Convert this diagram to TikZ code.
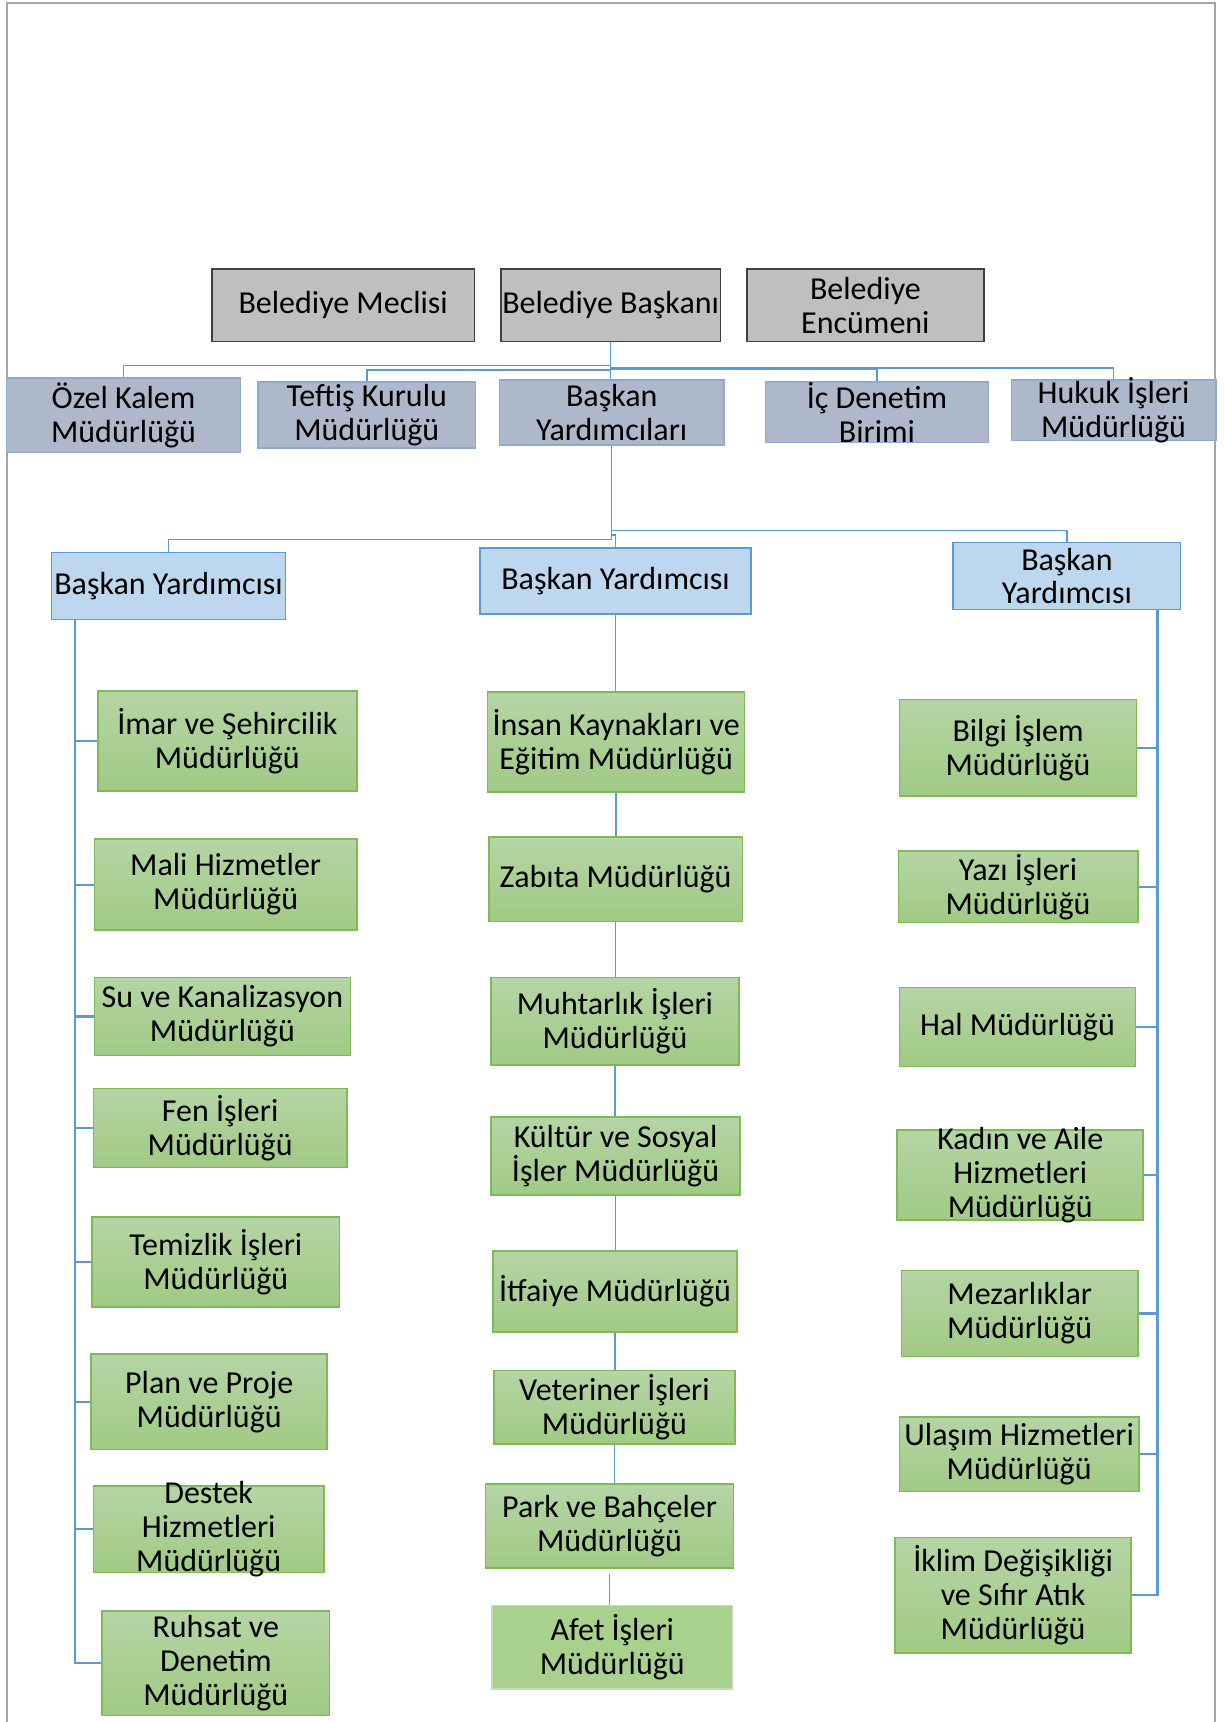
\documentclass[tikz,border=0pt]{standalone}
\usepackage{fontspec}
\setmainfont{Carlito}
\usetikzlibrary{calc}
\definecolor{grayfill}{HTML}{BFBFBF}
\definecolor{grayline}{HTML}{404040}
\definecolor{slatefill}{HTML}{ADB9CA}
\definecolor{slateline}{HTML}{8FAAD0}
\definecolor{byfill}{HTML}{BDD7EE}
\definecolor{byline}{HTML}{5B9BD5}
\definecolor{gtop}{HTML}{B5D5A5}
\definecolor{gbot}{HTML}{A0CA84}
\definecolor{gline}{HTML}{7FBA57}
\definecolor{afetfill}{HTML}{A9D18E}
\definecolor{conncol}{HTML}{5B9BD5}
\definecolor{framecol}{HTML}{A6A6A6}

\newcommand\orgbox[7]{%
 \pgfmathsetmacro\obw{(#4-#2)*0.54933}%
 \pgfmathsetmacro\obh{(#5-#3)*0.54933}%
 \node[#6, minimum width=\obw pt, minimum height=\obh pt] (#1) at ({(#2+#4)/2},{(#3+#5)/2}) {};
 \node[boxtext] at (#1.center) {#7};
}

\tikzset{
 basebox/.style={draw, inner sep=0pt, line width=0.8pt},
 topbox/.style={basebox, fill=grayfill, draw=grayline},
 secbox/.style={basebox, fill=slatefill, draw=slateline},
 vpbox/.style={basebox, fill=byfill, draw=byline},
 unitbox/.style={basebox, top color=gtop, bottom color=gbot, draw=gline},
 afetbox/.style={basebox, fill=afetfill, draw=afetfill!70!white},
 boxtext/.style={align=center, font=\fontsize{16}{17}\selectfont, inner sep=0pt, text=black},
 conn/.style={draw=conncol, line width=0.7pt},
 thickconn/.style={draw=conncol, line width=1.1pt},
}

\begin{document}
\begin{tikzpicture}[x=0.54933pt, y=-0.54933pt]
\useasboundingbox (0,0) rectangle (1115,1568);
\fill[white] (0,0) rectangle (1115,1568);
\draw[framecol, line width=1.1pt] (6.2,1568) -- (6.2,2.7) -- (1106.5,2.7) -- (1106.5,1568);

% top row
\orgbox{meclis}{193}{245}{432}{311}{topbox}{Belediye Meclisi}
\orgbox{bask}{456}{245}{656}{311}{topbox}{Belediye Başkanı}
\orgbox{encumen}{680}{245}{896}{311}{topbox}{Belediye\\Encümeni}

% second row
\orgbox{ozel}{6}{344}{219}{412}{secbox}{Özel Kalem\\Müdürlüğü}
\orgbox{teftis}{235}{348}{433}{408}{secbox}{Teftiş Kurulu\\Müdürlüğü}
\orgbox{bys}{455}{346}{659}{405}{secbox}{Başkan\\Yardımcıları}
\orgbox{icden}{697}{348}{900}{403}{secbox}{İç Denetim\\Birimi}
\orgbox{hukuk}{921}{346}{1107}{401}{secbox}{Hukuk İşleri\\Müdürlüğü}

% vice presidents
\orgbox{byl}{47}{503}{260}{564}{vpbox}{Başkan Yardımcısı}
\orgbox{bym}{437}{499}{684}{559}{vpbox}{Başkan Yardımcısı}
\orgbox{byr}{868}{494}{1075}{555}{vpbox}{Başkan\\Yardımcısı}

% left column
\orgbox{imar}{89}{629}{325}{720}{unitbox}{İmar ve Şehircilik\\Müdürlüğü}
\orgbox{mali}{86}{764}{325}{847}{unitbox}{Mali Hizmetler\\Müdürlüğü}
\orgbox{su}{86}{890}{319}{961}{unitbox}{Su ve Kanalizasyon\\Müdürlüğü}
\orgbox{fen}{85}{991}{316}{1063}{unitbox}{Fen İşleri\\Müdürlüğü}
\orgbox{temiz}{84}{1108}{309}{1190}{unitbox}{Temizlik İşleri\\Müdürlüğü}
\orgbox{plan}{83}{1233}{298}{1320}{unitbox}{Plan ve Proje\\Müdürlüğü}
\orgbox{destek}{85}{1353}{295}{1432}{unitbox}{Destek\\Hizmetleri\\Müdürlüğü}
\orgbox{ruhsat}{93}{1467}{300}{1562}{unitbox}{Ruhsat ve\\Denetim\\Müdürlüğü}

% middle column
\orgbox{insan}{444}{630}{678}{721}{unitbox}{İnsan Kaynakları ve\\Eğitim Müdürlüğü}
\orgbox{zabita}{445}{762}{676}{839}{unitbox}{Zabıta Müdürlüğü}
\orgbox{muhtar}{447}{890}{673}{970}{unitbox}{Muhtarlık İşleri\\Müdürlüğü}
\orgbox{kultur}{447}{1017}{674}{1088}{unitbox}{Kültür ve Sosyal\\İşler Müdürlüğü}
\orgbox{itfaiye}{449}{1139}{671}{1213}{unitbox}{İtfaiye Müdürlüğü}
\orgbox{veter}{450}{1248}{669}{1315}{unitbox}{Veteriner İşleri\\Müdürlüğü}
\orgbox{park}{442}{1351}{668}{1428}{unitbox}{Park ve Bahçeler\\Müdürlüğü}
\orgbox{afet}{448}{1462}{667}{1538}{afetbox}{Afet İşleri\\Müdürlüğü}

% right column
\orgbox{bilgi}{819}{637}{1035}{725}{unitbox}{Bilgi İşlem\\Müdürlüğü}
\orgbox{yazi}{818}{775}{1036}{840}{unitbox}{Yazı İşleri\\Müdürlüğü}
\orgbox{hal}{819}{899}{1034}{971}{unitbox}{Hal Müdürlüğü}
\orgbox{kadin}{817}{1029}{1041}{1111}{unitbox}{Kadın ve Aile\\Hizmetleri\\Müdürlüğü}
\orgbox{mezar}{821}{1157}{1036}{1235}{unitbox}{Mezarlıklar\\Müdürlüğü}
\orgbox{ulasim}{819}{1290}{1037}{1358}{unitbox}{Ulaşım Hizmetleri\\Müdürlüğü}
\orgbox{iklim}{815}{1400}{1030}{1505}{unitbox}{İklim Değişikliği\\ve Sıfır Atık\\Müdürlüğü}

% top connectors
\draw[conn] (bask.south) |- (ozel.north |- 0,333) -- (ozel.north);
\draw[conn] (bask.south) |- (teftis.north |- 0,337) -- (teftis.north);
\draw[conn] (bask.south) -- (bask.south |- bys.north);
\draw[conn] (bask.south) |- (icden.north |- 0,336) -- (icden.north);
\draw[conn] (bask.south) |- (hukuk.north |- 0,335) -- (hukuk.north);

% vice president connectors
\draw[conn] (bys.south) |- (byl.north |- 0,491) -- (byl.north);
\draw[conn] (bys.south) |- (byr.north |- 0,483) -- (byr.north);
\draw[conn] (bys.south) -- (bys.south |- 0,487) -| (bym.north);

% left column connectors
\coordinate (lcol) at (68,564);
\draw[thickconn] (lcol) |- (ruhsat.west);
\foreach \n in {imar,mali,su,fen,temiz,plan,destek}
  \draw[thickconn] (\n.west) -- (\n.west -| lcol);

% right column connectors
\coordinate (rcol) at (1054,555);
\draw[thickconn] (rcol) |- (iklim.east);
\foreach \n in {bilgi,yazi,hal,kadin,mezar,ulasim}
  \draw[thickconn] (\n.east) -- (\n.east -| rcol);

% middle column connectors
\draw[conn] (bym.south) -- (bym.south |- insan.north);
\draw[conn] (insan.south) -- (insan.south |- zabita.north);
\draw[conn] (zabita.south) -- (zabita.south |- muhtar.north);
\draw[conn] (muhtar.south) -- (muhtar.south |- kultur.north);
\draw[conn] (kultur.south) -- (kultur.south |- itfaiye.north);
\draw[conn] (itfaiye.south) -- (itfaiye.south |- veter.north);
\draw[conn] (veter.south) -- (veter.south |- park.north);
\draw[conn] (park.south |- 0,1433) -- (park.south |- afet.north);
\end{tikzpicture}
\end{document}
